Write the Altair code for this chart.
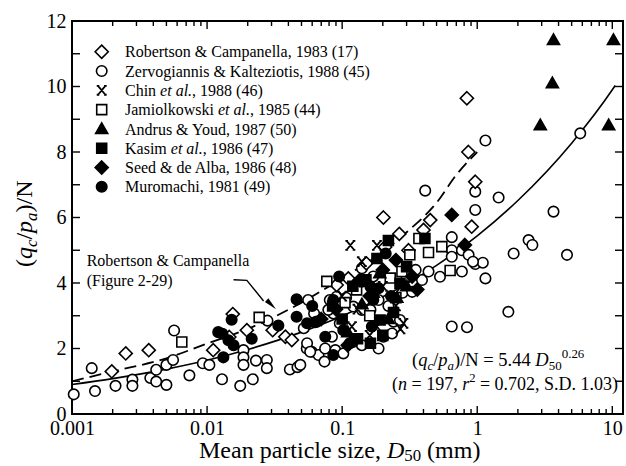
import altair as alt
import pandas as pd

FONT = "Liberation Serif"

# ---------------- data ----------------
NAMES = [
    "Robertson & Campanella, 1983 (17)",
    "Zervogiannis & Kalteziotis, 1988 (45)",
    "Chin et al., 1988 (46)",
    "Jamiolkowski et al., 1985 (44)",
    "Andrus & Youd, 1987 (50)",
    "Kasim et al., 1986 (47)",
    "Seed & de Alba, 1986 (48)",
    "Muromachi, 1981 (49)",
]

# Robertson & Campanella (open diamonds)
RC_D = [0.00197, 0.0025, 0.0037, 0.0111, 0.0146, 0.0155, 0.0197, 0.0306, 0.038, 0.0424,
        0.091, 0.111, 0.151, 0.202, 0.208, 0.265, 0.31, 0.40, 0.449, 0.838, 0.86, 0.967, 0.91]
RC_N = [1.3, 1.85, 1.95, 1.95, 2.35, 3.05, 2.56, 2.56, 2.36, 2.26,
        3.94, 4.14, 4.6, 6.0, 5.1, 5.5, 5.0, 5.62, 5.92, 9.64, 8.0, 7.09, 5.72]

# Zervogiannis & Kalteziotis (open circles)
ZK_D = [0.00103, 0.0014, 0.00148, 0.0021, 0.0028, 0.0028, 0.0038, 0.0042, 0.0042, 0.005,
        0.005, 0.0056, 0.0057, 0.0074, 0.0093, 0.0104, 0.0129,
        0.0186, 0.0186, 0.0186, 0.023, 0.0277, 0.0277, 0.028, 0.0176, 0.0218, 0.041, 0.0467,
        0.056, 0.0547, 0.0596, 0.0668, 0.0748, 0.074, 0.062, 0.081, 0.086, 0.091,
        0.14, 0.065, 0.079, 0.096, 0.121, 0.14, 0.162, 0.186, 0.202, 0.234, 0.24, 0.268,
        0.084, 0.052, 0.055, 0.058, 0.089, 0.102, 0.114, 0.14, 0.186, 0.049,
        0.107, 0.125, 0.22, 0.28, 0.3, 0.35, 0.17,
        1.15, 0.412, 0.967, 1.44, 0.967, 0.648, 0.648, 0.77, 0.863, 0.967, 1.1, 0.648,
        0.53, 0.77, 1.15, 0.436, 0.39, 0.33, 1.7, 0.648, 0.84,
        3.67, 2.4, 2.56, 1.86, 4.62, 5.79, 0.93]
ZK_N = [0.6, 1.4, 0.7, 0.86, 1.05, 0.86, 1.1, 1.35, 0.99, 0.89,
        1.5, 1.65, 2.55, 1.18, 1.55, 1.5, 1.06,
        1.95, 1.73, 1.5, 1.63, 1.65, 1.4, 2.85, 0.86, 1.06, 1.36, 1.43,
        3.48, 2.0, 1.9, 1.8, 2.0, 1.6, 3.07, 3.48, 3.07, 3.58,
        4.45, 2.82, 3.18, 2.77, 3.28, 3.18, 3.18, 3.48, 2.36, 2.46, 2.82, 2.87,
        2.36, 2.62, 2.16, 1.9, 1.95, 1.85, 2.16, 2.1, 2.0, 1.5,
        3.55, 4.0, 3.3, 3.7, 4.2, 4.4, 4.2,
        8.35, 6.82, 6.79, 6.61, 6.23, 5.4, 5.0, 5.0, 4.86, 4.58, 4.62, 4.8,
        4.19, 4.35, 4.14, 4.35, 4.09, 3.73, 3.12, 2.67, 2.65,
        6.18, 5.31, 5.16, 4.9, 4.86, 8.57, 4.65]

# Chin et al. (crosses)
CH_D = [0.115, 0.181, 0.14, 0.181, 0.284, 0.118, 0.1, 0.13, 0.2, 0.25, 0.16, 0.27]
CH_N = [5.15, 5.15, 4.65, 2.67, 2.77, 2.67, 3.6, 3.2, 3.9, 3.3, 2.4, 2.6]

# Jamiolkowski et al. (open squares)
JA_D = [0.0065, 0.0243, 0.077, 0.128, 0.227, 0.277, 0.37, 0.436, 0.547, 0.63, 0.317, 0.105, 0.16, 0.25]
JA_N = [2.2, 2.95, 4.05, 3.79, 4.15, 4.35, 5.36, 4.93, 5.11, 4.38, 4.86, 3.4, 3.0, 3.55]

# Andrus & Youd (filled triangles)
AY_D = [3.67, 10.2, 3.6, 2.93, 9.4, 0.254, 0.19, 0.14, 0.3, 0.11, 0.22, 0.17]
AY_N = [11.42, 11.42, 10.1, 8.82, 8.82, 3.55, 4.3, 3.35, 3.9, 2.5, 2.9, 3.7]

# Kasim et al. (filled squares)
KA_D = [0.22, 0.181, 0.268, 0.191, 0.162, 0.41, 0.12, 0.085, 0.15, 0.24, 0.3, 0.1, 0.2, 0.13]
KA_N = [5.3, 4.75, 3.99, 2.87, 2.16, 5.36, 3.9, 3.3, 4.1, 3.1, 4.5, 2.9, 2.4, 2.3]

# Seed & de Alba (filled diamonds)
SA_D = [0.648, 0.81, 0.36, 0.135, 0.2, 0.09, 0.25, 0.16, 0.07, 0.11, 0.33]
SA_N = [6.08, 5.16, 3.8, 4.09, 4.4, 3.2, 4.7, 3.6, 2.9, 2.1, 4.2]

# Muromachi (filled circles)
MU_D = [0.0121, 0.046, 0.046, 0.0152, 0.013, 0.0144, 0.0157, 0.0214, 0.0132, 0.0337,
        0.063, 0.055, 0.075, 0.102, 0.166, 0.086, 0.14, 0.162, 0.186, 0.17, 0.086, 0.12,
        0.06, 0.21, 0.23, 0.095]
MU_N = [2.5, 3.5, 2.97, 2.88, 2.45, 2.25, 2.1, 2.3, 1.73, 2.7,
        2.8, 2.77, 2.36, 2.56, 2.67, 3.48, 4.04, 3.89, 3.84, 3.48, 1.8, 2.2,
        3.3, 4.9, 3.6, 4.2]

# Robertson & Campanella curve (dashed)
DASH_D = [0.001, 0.002, 0.005, 0.01, 0.02, 0.05, 0.1, 0.2, 0.3, 0.5, 0.7, 1.0]
DASH_N = [1.0, 1.3, 1.7, 2.15, 2.6, 3.4, 4.15, 4.95, 5.55, 6.45, 7.3, 8.0]

# fitted curve (solid) (q_c/p_a)/N = 5.44 D50^0.26
FIT_D = [0.001, 0.002, 0.005, 0.01, 0.02, 0.05, 0.1, 0.2, 0.5, 1.0, 2.0, 5.0, 10.0, 10.5]
FIT_N = [0.90, 1.08, 1.37, 1.64, 1.97, 2.50, 2.99, 3.58, 4.54, 5.44, 6.52, 8.27, 9.90, 10.03]

# arrow of the "Robertson & Campanella (Figure 2-29)" note
ARROW_D = [0.0157, 0.0197, 0.0262]
ARROW_N = [4.1, 4.08, 3.45]
HEAD_D = [0.0299]
HEAD_N = [3.34]

X_MAJOR = [0.001, 0.01, 0.1, 1, 10]
X_MINOR = [m * 10.0 ** e for e in range(-3, 1) for m in range(2, 10)]
Y_LABELS = [0, 2, 4, 6, 8, 10, 12]
Y_TICKS = list(range(1, 12))

# ---------------- styling ----------------
W, H = 551, 393
DIAMOND = "M0,-1.25L1.25,0L0,1.25L-1.25,0Z"
SQUARE = "M-0.95,-0.95L0.95,-0.95L0.95,0.95L-0.95,0.95Z"
TRIANGLE = "M0,-1.15L1.15,0.85L-1.15,0.85Z"
XSHAPE = ("M-0.7,-0.85L0.7,0.85M0.7,-0.85L-0.7,0.85"
          "M-0.95,-0.85L-0.45,-0.85M0.45,-0.85L0.95,-0.85"
          "M-0.95,0.85L-0.45,0.85M0.45,0.85L0.95,0.85")
SHAPES = [DIAMOND, "circle", XSHAPE, SQUARE, TRIANGLE, SQUARE, DIAMOND, "circle"]
FILLS = ["white", "white", "black", "white", "black", "black", "black", "black"]

XS = alt.Scale(type="log", domain=[0.001, 12], nice=False)
YS = alt.Scale(domain=[0, 12], nice=False, zero=False)
XAX = alt.Axis(values=X_MAJOR, title=None, ticks=False, domain=False, grid=False,
               labelFont=FONT, labelFontSize=20, labelColor="black", labelPadding=4,
               labelFlush=False, labelOverlap=False,
               labelExpr="datum.value < 0.005 ? '0.001' : datum.value < 0.05 ? '0.01' : "
                         "datum.value < 0.5 ? '0.1' : datum.value < 5 ? '1' : '10'")
YAX = alt.Axis(values=Y_LABELS, title=None, ticks=False, domain=False, grid=False,
               labelFont=FONT, labelFontSize=20, labelColor="black", labelPadding=6,
               format="d")


def X(field="D"):
    return alt.X(f"{field}:Q", scale=XS, axis=XAX)


def Y(field="N"):
    return alt.Y(f"{field}:Q", scale=YS, axis=YAX)


# ---------------- rich text helper ----------------
REG = {' ': 250, '&': 778, '(': 333, ')': 333, ',': 250, '-': 333, '.': 250, '/': 278,
       '=': 564, 'A': 722, 'C': 667, 'D': 722, 'F': 556, 'J': 389, 'K': 722, 'M': 889,
       'N': 722, 'R': 667, 'S': 556, 'Y': 722, 'Z': 611, 'a': 444, 'b': 500, 'c': 444,
       'd': 500, 'e': 444, 'f': 333, 'g': 500, 'h': 500, 'i': 278, 'k': 500, 'l': 278,
       'm': 778, 'n': 500, 'o': 500, 'p': 500, 'q': 500, 'r': 333, 's': 389, 't': 278,
       'u': 500, 'v': 500, 'w': 722, 'y': 500, 'z': 444}
ITA = {'a': 500, 'c': 444, 'e': 444, 'l': 278, 'n': 500, 'p': 500, 'q': 500, 'r': 389,
       't': 278, 'D': 722, '.': 250, ' ': 250}


def twidth(s, fs, italic):
    tot = 0
    for ch in s:
        if ch.isdigit():
            tot += 500
        elif italic and ch in ITA:
            tot += ITA[ch]
        else:
            tot += REG.get(ch, 500)
    return tot * fs / 1000.0


def rich(segments, x0, y0, size, rotate=False, small=0.7, sub=0.22):
    layers = []
    pos = 0.0
    for txt, italic, kind in segments:
        fs = size if kind == "n" else size * small
        off = sub * size if kind == "sub" else (-0.42 * size if kind == "sup" else 0.0)
        stripped = txt.lstrip(" ")
        lead = (len(txt) - len(stripped)) * 0.25 * fs
        shown = stripped.rstrip(" ")
        p = pos + lead
        if rotate:
            x, y, ang = x0 + off, y0 - p, 270
        else:
            x, y, ang = x0 + p, y0 + off, 0
        if shown:
            layers.append(
                alt.Chart(pd.DataFrame({"t": [shown]}))
                .mark_text(align="left", baseline="alphabetic", font=FONT, fontSize=fs,
                           fontStyle="italic" if italic else "normal", color="black", angle=ang)
                .encode(x=alt.value(x), y=alt.value(y), text="t:N")
            )
        pos += twidth(txt, fs, italic)
    return layers


# ---------------- layers ----------------
layers = []

# tick marks (inward)
rule = dict(color="black", strokeWidth=1.4)
layers.append(alt.Chart(pd.DataFrame({"D": X_MAJOR})).mark_rule(**rule)
              .encode(x=X(), y=alt.value(H), y2=alt.value(H - 8)))
layers.append(alt.Chart(pd.DataFrame({"D": X_MINOR})).mark_rule(**rule)
              .encode(x=X(), y=alt.value(H), y2=alt.value(H - 5)))
layers.append(alt.Chart(pd.DataFrame({"D": X_MAJOR})).mark_rule(**rule)
              .encode(x=X(), y=alt.value(0), y2=alt.value(8)))
layers.append(alt.Chart(pd.DataFrame({"D": X_MINOR})).mark_rule(**rule)
              .encode(x=X(), y=alt.value(0), y2=alt.value(5)))
layers.append(alt.Chart(pd.DataFrame({"N": Y_TICKS})).mark_rule(**rule)
              .encode(y=Y(), x=alt.value(0), x2=alt.value(8)))
layers.append(alt.Chart(pd.DataFrame({"N": Y_TICKS})).mark_rule(**rule)
              .encode(y=Y(), x=alt.value(W), x2=alt.value(W - 8)))

# curves
layers.append(alt.Chart(pd.DataFrame({"D": FIT_D, "N": FIT_N})).mark_line(
    color="black", strokeWidth=1.6, interpolate="monotone").encode(x=X(), y=Y()))
layers.append(alt.Chart(pd.DataFrame({"D": DASH_D, "N": DASH_N})).mark_line(
    color="black", strokeWidth=1.8, strokeDash=[12, 6], interpolate="monotone").encode(x=X(), y=Y()))

# scatter
order = [(1, ZK_D, ZK_N), (0, RC_D, RC_N), (3, JA_D, JA_N), (7, MU_D, MU_N),
         (5, KA_D, KA_N), (6, SA_D, SA_N), (4, AY_D, AY_N)]
rows = []
for idx, ds, ns in order:
    for d, n in zip(ds, ns):
        rows.append({"D": d, "N": n, "series": NAMES[idx]})
pts = pd.DataFrame(rows)
layers.append(
    alt.Chart(pts).mark_point(filled=True, size=110, stroke="black", strokeWidth=1.6, opacity=1)
    .encode(
        x=X(), y=Y(),
        shape=alt.Shape("series:N", scale=alt.Scale(domain=NAMES, range=SHAPES), legend=None),
        fill=alt.Fill("series:N", scale=alt.Scale(domain=NAMES, range=FILLS), legend=None),
    )
)
# Chin et al. crosses drawn as stroked x symbols
layers.append(
    alt.Chart(pd.DataFrame({"D": CH_D, "N": CH_N})).mark_point(
        shape=XSHAPE, size=110, filled=False, color="black", strokeWidth=1.8, opacity=1)
    .encode(x=X(), y=Y())
)

# arrow
layers.append(alt.Chart(pd.DataFrame({"D": ARROW_D, "N": ARROW_N})).mark_line(
    color="black", strokeWidth=1.4).encode(x=X(), y=Y()))
layers.append(alt.Chart(pd.DataFrame({"D": HEAD_D, "N": HEAD_N})).mark_point(
    shape="M0,-1L0.38,1L-0.38,1Z", size=169, angle=134, filled=True, color="black", opacity=1)
    .encode(x=X(), y=Y()))

# manual legend
OX, OY = 72, 21
LEG = [
    [(NAMES[0], False, "n")],
    [(NAMES[1], False, "n")],
    [("Chin ", False, "n"), ("et al.", True, "n"), (", 1988 (46)", False, "n")],
    [("Jamiolkowski ", False, "n"), ("et al.", True, "n"), (", 1985 (44)", False, "n")],
    [(NAMES[4], False, "n")],
    [("Kasim ", False, "n"), ("et al.", True, "n"), (", 1986 (47)", False, "n")],
    [(NAMES[6], False, "n")],
    [(NAMES[7], False, "n")],
]
for i in range(8):
    cy = 51.7 + i * 19.3 - OY
    if i == 2:
        sym = alt.Chart(pd.DataFrame({"k": [NAMES[i]]})).mark_point(
            filled=False, size=110, color="black", strokeWidth=1.8, opacity=1, shape=XSHAPE)
    else:
        sym = alt.Chart(pd.DataFrame({"k": [NAMES[i]]})).mark_point(
            filled=True, size=110, stroke="black", strokeWidth=1.6, opacity=1,
            shape=SHAPES[i], fill=FILLS[i])
    layers.append(sym.encode(x=alt.value(101.7 - OX), y=alt.value(cy)))
    layers += rich(LEG[i], 125 - OX, cy + 5.6, 16)

# note near the dashed curve
layers += rich([("Robertson & Campanella", False, "n")], 86.7 - OX, 266 - OY, 16)
layers += rich([("(Figure 2-29)", False, "n")], 86.7 - OX, 286 - OY, 16)

# equation
layers += rich([("(", False, "n"), ("q", True, "n"), ("c", True, "sub"), ("/", False, "n"),
                ("p", True, "n"), ("a", True, "sub"), (")/N = 5.44 ", False, "n"),
                ("D", True, "n"), ("50", False, "sub"), ("0.26", False, "sup")],
               412 - OX, 366 - OY, 18.5)
layers += rich([("(", False, "n"), ("n", True, "n"), (" = 197, ", False, "n"), ("r", True, "n"),
                ("2", False, "sup"), (" = 0.702, S.D. 1.03)", False, "n")],
               392 - OX, 390 - OY, 18)

# axis titles
layers += rich([("Mean particle size, ", False, "n"), ("D", True, "n"), ("50", False, "sub"),
                (" (mm)", False, "n")], 199 - OX, 457.5 - OY, 24, sub=0.16)
layers += rich([("(", False, "n"), ("q", True, "n"), ("c", True, "sub"), ("/", False, "n"),
                ("p", True, "n"), ("a", True, "sub"), (")/N", False, "n")],
               32 - OX, 267 - OY, 24, rotate=True)

chart = (
    alt.layer(*layers)
    .properties(width=W, height=H,
                padding={"left": OX, "top": OY, "right": 626 - OX - W, "bottom": 466 - OY - H},
                autosize=alt.AutoSizeParams(type="none"), background="white")
    .configure_view(stroke="black", strokeWidth=2)
)

chart.save("out.html", embed_options={"renderer": "svg", "actions": False})
